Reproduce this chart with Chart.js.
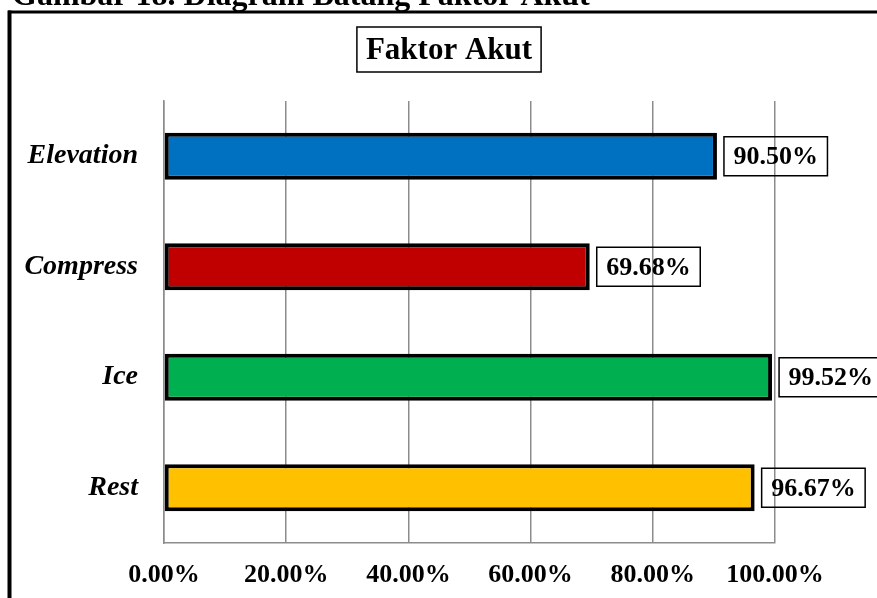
<!DOCTYPE html>
<html>
<head>
<meta charset="utf-8">
<script src="https://cdn.jsdelivr.net/npm/chart.js@4.4.1/dist/chart.umd.min.js"></script>
<style>
html,body{margin:0;padding:0;background:#fff;}
canvas{display:block;}
</style>
</head>
<body>
<canvas id="c" width="877" height="598"></canvas>
<script>
const categories = ['Elevation', 'Compress', 'Ice', 'Rest'];
const values = [90.50, 69.68, 99.52, 96.67];
const barColors = ['#0070C0', '#C00000', '#00B050', '#FFC000'];
const xTicks = [0, 20, 40, 60, 80, 100];
const chartTitle = 'Faktor Akut';
const caption = 'Gambar 18. Diagram Batang Faktor Akut';

const SERIF = '"Liberation Serif", "Times New Roman", serif';
const GRID = '#8c8c8c';

const decor = {
  id: 'decor',
  beforeDraw(chart) {
    const ctx = chart.ctx;
    ctx.save();
    ctx.fillStyle = '#fff';
    ctx.fillRect(0, 0, chart.width, chart.height);
    ctx.restore();
  },
  afterDraw(chart) {
    const ctx = chart.ctx;
    ctx.save();
    // caption (cut off at top)
    ctx.fillStyle = '#000';
    ctx.font = 'bold 32px ' + SERIF;
    ctx.textAlign = 'left';
    ctx.textBaseline = 'alphabetic';
    ctx.fillText(caption, 12, 5);
    // outer frame
    ctx.strokeStyle = '#000';
    ctx.lineWidth = 3;
    ctx.beginPath();
    ctx.moveTo(8, 12);
    ctx.lineTo(chart.width, 12);
    ctx.stroke();
    ctx.lineWidth = 4;
    ctx.beginPath();
    ctx.moveTo(9.5, 10.5);
    ctx.lineTo(9.5, chart.height);
    ctx.stroke();
    // title box
    ctx.font = 'bold 31px ' + SERIF;
    const tw = ctx.measureText(chartTitle).width;
    const cx = 449;
    const bw = tw + 18, bh = 45;
    ctx.lineWidth = 1.5;
    ctx.strokeRect(cx - bw / 2, 27, bw, bh);
    ctx.textAlign = 'center';
    ctx.textBaseline = 'middle';
    ctx.fillText(chartTitle, cx, 50.5);
    ctx.restore();
  },
  afterDatasetsDraw(chart) {
    const ctx = chart.ctx;
    const meta = chart.getDatasetMeta(0);
    ctx.save();
    ctx.font = 'bold 26px ' + SERIF;
    ctx.fillStyle = '#000';
    ctx.strokeStyle = '#000';
    ctx.lineWidth = 1.5;
    meta.data.forEach((el, i) => {
      const txt = values[i].toFixed(2) + '%';
      const w = ctx.measureText(txt).width;
      const bw = w + 19, bh = 39;
      const left = el.x + 7;
      ctx.strokeRect(left, el.y - bh / 2, bw, bh);
      ctx.textAlign = 'center';
      ctx.textBaseline = 'middle';
      ctx.fillText(txt, left + bw / 2, el.y + 1.5);
    });
    ctx.restore();
  }
};

new Chart(document.getElementById('c'), {
  type: 'bar',
  data: {
    labels: categories,
    datasets: [{
      data: values,
      backgroundColor: barColors,
      borderColor: '#000',
      borderWidth: 4,
      borderSkipped: false,
      categoryPercentage: 1,
      barPercentage: 0.425
    }]
  },
  options: {
    indexAxis: 'y',
    responsive: false,
    animation: false,
    devicePixelRatio: 1,
    layout: { padding: { left: 0, right: 102, top: 101, bottom: 0 } },
    plugins: {
      legend: { display: false },
      title: { display: false },
      tooltip: { enabled: false }
    },
    scales: {
      x: {
        min: 0,
        max: 100,
        afterBuildTicks(scale) { scale.ticks = xTicks.map(v => ({ value: v })); },
        afterFit(scale) { scale.height = 55; },
        ticks: {
          color: '#000',
          font: { family: SERIF, size: 26, weight: 'bold' },
          padding: 17,
          maxRotation: 0,
          callback: v => Number(v).toFixed(2) + '%'
        },
        grid: { color: GRID, lineWidth: 1.5, drawTicks: false },
        border: { color: GRID, width: 1.5 }
      },
      y: {
        afterFit(scale) { scale.width = 164; },
        ticks: {
          color: '#000',
          font: { family: SERIF, size: 28, weight: 'bold', style: 'italic' },
          padding: 26
        },
        grid: { display: false, drawTicks: false },
        border: { display: true, color: GRID, width: 1.5 }
      }
    }
  },
  plugins: [decor]
});
</script>
</body>
</html>
